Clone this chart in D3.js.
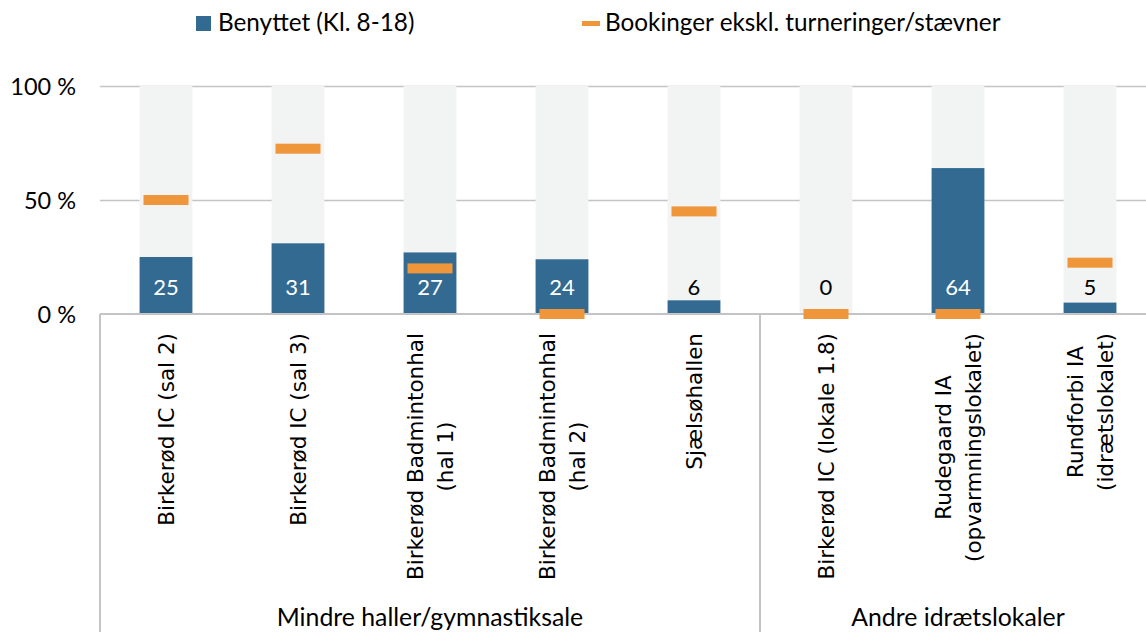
<!DOCTYPE html>
<html>
<head>
<meta charset="utf-8">
<script src="https://cdn.jsdelivr.net/npm/d3@7"></script>
<style>
  body {margin: 0; background: #fff;}
  svg {display: block;}
  .tick text, .legend text, .group-label, .value-label {font-family: Lato, "Open Sans", sans-serif; fill: #000;}
  .cat-label {font-family: "DejaVu Sans", Verdana, sans-serif; font-size: 21.5px; fill: #000;}
</style>
</head>
<body>
<script>
const categories = ['Birkerød IC (sal 2)', 'Birkerød IC (sal 3)', 'Birkerød Badmintonhal (hal 1)',
  'Birkerød Badmintonhal (hal 2)', 'Sjælsøhallen', 'Birkerød IC (lokale 1.8)',
  'Rudegaard IA (opvarmningslokalet)', 'Rundforbi IA (idrætslokalet)']
const categoryLines = [
  ['Birkerød IC (sal 2)'],
  ['Birkerød IC (sal 3)'],
  ['Birkerød Badmintonhal', '(hal 1)'],
  ['Birkerød Badmintonhal', '(hal 2)'],
  ['Sjælsøhallen'],
  ['Birkerød IC (lokale 1.8)'],
  ['Rudegaard IA', '(opvarmningslokalet)'],
  ['Rundforbi IA', '(idrætslokalet)']
]
const benyttet = [25, 31, 27, 24, 6, 0, 64, 5]
const bookinger = [50, 72.5, 20, 0, 45, 0, 0, 22.5]
const groups = ['Mindre haller/gymnastiksale', 'Andre idrætslokaler']
const groupSizes = [5, 3]
const yTicks = [0, 50, 100]
const seriesNames = ['Benyttet (Kl. 8-18)', 'Bookinger ekskl. turneringer/stævner']

const blue = '#336a92'
const orange = '#f0963a'
const back = '#f2f3f3'
const lineGrey = '#c4c4c6'

const svgWidth = 1146
const svgHeight = 632
const svg = d3.select('body').append('svg')
  .attr('width', svgWidth).attr('height', svgHeight)

const plotLeft = 100
const step = 132
const plotTop = 86
const plotBottom = 314

const x = d3.scaleBand()
  .domain(categories)
  .range([plotLeft, plotLeft + step * categories.length])
  .paddingInner(0.6).paddingOuter(0.3)
const y = d3.scaleLinear().domain([0, 100]).range([plotBottom, plotTop])
const bw = x.bandwidth()
const plotRight = plotLeft + step * categories.length

// gridlines + y labels
const yAxis = svg.append('g')
  .attr('transform', `translate(${plotLeft},0)`)
  .call(d3.axisLeft(y).tickValues(yTicks).tickSize(-(plotRight - plotLeft)).tickPadding(24)
    .tickFormat(d => d + ' %'))
yAxis.select('.domain').remove()
yAxis.selectAll('.tick line').attr('stroke', lineGrey).attr('stroke-width', 1.5)
  .filter(d => d === 0).remove()
yAxis.selectAll('.tick text').attr('font-size', 23.5).attr('dy', '0.34em')

// background bars
svg.append('g').selectAll('rect').data(categories).enter().append('rect')
  .attr('x', d => x(d)).attr('width', bw)
  .attr('y', y(100)).attr('height', y(0) - y(100))
  .attr('fill', back)

// value bars
svg.append('g').selectAll('rect').data(benyttet).enter().append('rect')
  .attr('x', (d, i) => x(categories[i])).attr('width', bw)
  .attr('y', d => y(d)).attr('height', d => y(0) - y(d))
  .attr('fill', blue)

// x axis line
svg.append('line')
  .attr('x1', plotLeft).attr('x2', plotRight)
  .attr('y1', y(0)).attr('y2', y(0))
  .attr('stroke', lineGrey).attr('stroke-width', 2)

// value labels
svg.append('g').selectAll('text').data(benyttet).enter().append('text')
  .attr('class', 'value-label')
  .attr('x', (d, i) => x(categories[i]) + bw / 2)
  .attr('y', y(0) - 19)
  .attr('text-anchor', 'middle')
  .attr('font-size', 22)
  .style('fill', d => d >= 15 ? '#fff' : '#000')
  .text(d => d)

// booking markers
const mw = 45
svg.append('g').selectAll('rect').data(bookinger).enter().append('rect')
  .attr('x', (d, i) => x(categories[i]) + bw / 2 - mw / 2).attr('width', mw)
  .attr('y', d => y(d) - 5).attr('height', 10)
  .attr('fill', orange)

// category labels
const catG = svg.append('g').selectAll('g').data(categories).enter().append('g')
  .attr('transform', d => `translate(${x(d) + bw / 2},333) rotate(-90)`)
catG.each(function (d, i) {
  const lines = categoryLines[i]
  const t = d3.select(this).append('text').attr('class', 'cat-label').attr('text-anchor', 'middle')
  lines.forEach((ln, j) => {
    t.append('tspan').attr('y', (j - (lines.length - 1) / 2) * 30).attr('dy', '0.36em').text(ln)
  })
  let maxLen = 0
  t.selectAll('tspan').each(function () { maxLen = Math.max(maxLen, this.getComputedTextLength()) })
  t.selectAll('tspan').attr('x', -maxLen / 2)
})

// group separators and labels
let start = 0
const seps = [0]
groupSizes.forEach(n => { start += n; seps.push(start) })
svg.append('g').selectAll('line').data(seps).enter().append('line')
  .attr('x1', d => plotLeft + d * step).attr('x2', d => plotLeft + d * step)
  .attr('y1', y(0)).attr('y2', svgHeight)
  .attr('stroke', lineGrey).attr('stroke-width', 2)
svg.append('g').selectAll('text').data(groups).enter().append('text')
  .attr('class', 'group-label')
  .attr('x', (d, i) => plotLeft + (seps[i] + seps[i + 1]) / 2 * step)
  .attr('y', 626)
  .attr('text-anchor', 'middle')
  .attr('font-size', 24.8)
  .text(d => d)

// legend
const legend = svg.append('g').attr('class', 'legend')
legend.append('rect').attr('x', 196).attr('y', 16).attr('width', 15).attr('height', 15).attr('fill', blue)
legend.append('text').attr('x', 218).attr('y', 31).attr('font-size', 24.3).text(seriesNames[0])
legend.append('rect').attr('x', 582).attr('y', 21).attr('width', 18).attr('height', 5).attr('fill', orange)
legend.append('text').attr('x', 605).attr('y', 31).attr('font-size', 24.3).text(seriesNames[1])
</script>
</body>
</html>
